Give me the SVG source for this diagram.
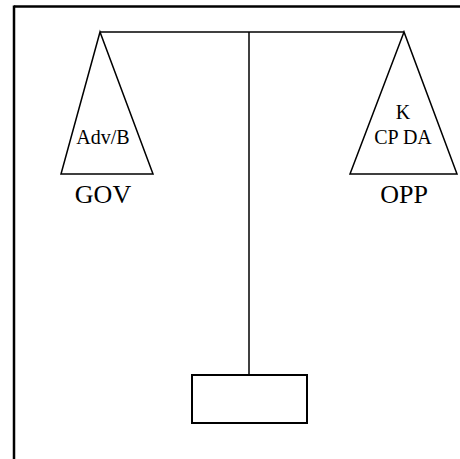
<svg xmlns="http://www.w3.org/2000/svg" width="460" height="459" viewBox="0 0 460 459">
<style>
.ln{stroke:#000;stroke-width:1.5;fill:none}
.pan{stroke:#000;stroke-width:1.5;fill:#fff}
.t{font-family:"Liberation Serif","Times New Roman",serif;fill:#000;text-anchor:middle}
.s{font-size:20px}
.b{font-size:26px}
</style>
<rect width="460" height="459" fill="#fff"/>
<g id="frame">
<line x1="14" y1="6.5" x2="460" y2="6.5" stroke="#000" stroke-width="2.5"/>
<line x1="14" y1="5.5" x2="14" y2="459" stroke="#000" stroke-width="2.5"/>
</g>
<g id="connectors">
<line class="ln" x1="100" y1="32" x2="404" y2="32"/>
<line class="ln" x1="249" y1="32" x2="249" y2="375"/>
</g>
<g id="gov">
<polygon class="pan" points="100,32 61,174 153,174"/>
<text class="t s" x="103" y="144">Adv/B</text>
<text class="t b" x="103" y="203">GOV</text>
</g>
<g id="opp">
<polygon class="pan" points="404,32 350,174 457,174"/>
<text class="t s" x="403" y="119">K</text>
<text class="t s" x="403" y="144">CP DA</text>
<text class="t b" x="404" y="203">OPP</text>
</g>
<g id="base">
<rect x="192" y="375" width="115" height="48" stroke="#000" stroke-width="2" fill="#fff"/>
</g>
</svg>
